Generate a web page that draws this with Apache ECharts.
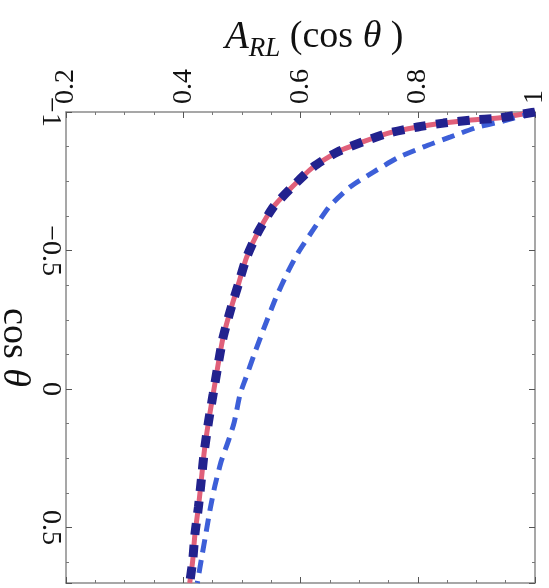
<!DOCTYPE html>
<html>
<head>
<meta charset="utf-8">
<script src="https://cdn.jsdelivr.net/npm/echarts@6/dist/echarts.min.js"></script>
<style>
  html, body { margin: 0; padding: 0; background: #fff; }
  #chart { width: 549px; height: 588px; }
</style>
</head>
<body>
<div id="chart"></div>
<script>
// Asymmetry A_RL as a function of cos(theta)
const cosFull = [-1.0, -0.978, -0.971, -0.960, -0.946, -0.924, -0.892, -0.856, -0.802, -0.730,
  -0.658, -0.568, -0.475, -0.378, -0.281, -0.187, -0.083, 0.018, 0.119, 0.223,
  0.324, 0.424, 0.522, 0.622, 0.7];
const aFull = [1.0, 0.937, 0.891, 0.844, 0.800, 0.750, 0.706, 0.663, 0.622, 0.586,
  0.554, 0.528, 0.508, 0.494, 0.480, 0.468, 0.459, 0.451, 0.443, 0.436,
  0.431, 0.426, 0.420, 0.416, 0.411];
// Approximation curve, drawn dotted on top of the full result
const cosApprox = cosFull.slice();
const aApprox = aFull.slice();
// Leading-order curve
const cosLO = [-1.0, -0.968, -0.946, -0.910, -0.874, -0.835, -0.784, -0.730, -0.658, -0.576,
  -0.496, -0.421, -0.324, -0.216, -0.119, -0.036, 0.018, 0.119, 0.187, 0.259,
  0.349, 0.432, 0.529, 0.601, 0.7];
const aLO = [1.0, 0.947, 0.903, 0.856, 0.810, 0.766, 0.725, 0.685, 0.649, 0.622,
  0.597, 0.578, 0.557, 0.537, 0.520, 0.506, 0.497, 0.487, 0.477, 0.465,
  0.454, 0.446, 0.438, 0.432, 0.424];

const xTicks = { min: 0.2, max: 1.0, interval: 0.2 };
const yTicks = { min: -1, max: 0.7, interval: 0.5 };

const pairs = (xs, ys) => xs.map((x, i) => [x, ys[i]]);
const fmt = v => String(+v.toFixed(2)).replace('-', '\u2212');
const serif = '"Liberation Serif", "DejaVu Serif", serif';
const frame = '#8a8a8a';

const chart = echarts.init(document.getElementById('chart'), null, { renderer: 'canvas' });

const tickStyle = {
  axisLine: { show: true, onZero: false, lineStyle: { color: frame, width: 1.5 } },
  axisTick: { show: true, inside: true, length: 6, lineStyle: { color: '#555', width: 1 } },
  minorTick: { show: true, splitNumber: 4, length: 3, lineStyle: { color: '#777', width: 1 } },
  splitLine: { show: false }
};

chart.setOption({
  animation: false,
  backgroundColor: '#fff',
  title: {
    text: '{a|A}{s|RL}{p| (cos }{t|θ}{p| )}',
    left: 220, top: 8,
    textStyle: {
      rich: {
        a: { fontFamily: serif, fontStyle: 'italic', fontWeight: 'normal', fontSize: 39, color: '#111' },
        s: { fontFamily: serif, fontStyle: 'italic', fontWeight: 'normal', fontSize: 27, color: '#111', padding: [22, 0, 0, 0] },
        p: { fontFamily: serif, fontWeight: 'normal', fontSize: 38, color: '#111' },
        t: { fontFamily: serif, fontStyle: 'italic', fontWeight: 'normal', fontSize: 38, color: '#111' }
      }
    }
  },
  grid: { left: 66, right: 14, top: 112, bottom: 5, containLabel: false, outerBoundsMode: 'none' },
  xAxis: [
    Object.assign({
      type: 'value', position: 'top', min: xTicks.min, max: xTicks.max, interval: xTicks.interval,
      axisLabel: { rotate: -90, fontFamily: serif, fontSize: 28, color: '#111', margin: 8, formatter: fmt }
    }, tickStyle),
    Object.assign({
      type: 'value', position: 'bottom', min: xTicks.min, max: xTicks.max, interval: xTicks.interval,
      axisLabel: { show: false }
    }, tickStyle)
  ],
  yAxis: [
    Object.assign({
      type: 'value', inverse: true, position: 'left',
      min: yTicks.min, max: yTicks.max, interval: yTicks.interval,
      name: '{c|cos }{t|θ}', nameLocation: 'middle', nameRotate: -90, nameGap: 33,
      nameMoveOverlap: false,
      nameTextStyle: {
        rich: {
          c: { fontFamily: serif, fontSize: 38, color: '#111' },
          t: { fontFamily: serif, fontStyle: 'italic', fontSize: 38, color: '#111' }
        }
      },
      axisLabel: { rotate: -90, fontFamily: serif, fontSize: 28, color: '#111', margin: 2,
        showMaxLabel: false, formatter: fmt }
    }, tickStyle),
    Object.assign({
      type: 'value', inverse: true, position: 'right',
      min: yTicks.min, max: yTicks.max, interval: yTicks.interval,
      axisLabel: { show: false }
    }, tickStyle)
  ],
  series: [
    {
      name: 'full', type: 'line', smooth: 0.2, showSymbol: false, z: 2,
      data: pairs(aFull, cosFull),
      lineStyle: { color: '#e0607a', width: 5 }
    },
    {
      name: 'approx', type: 'line', smooth: 0.2, showSymbol: false, z: 3,
      data: pairs(aApprox, cosApprox),
      lineStyle: { color: '#22228e', width: 9, type: [12, 10], cap: 'butt' }
    },
    {
      name: 'LO', type: 'line', smooth: 0.2, showSymbol: false, z: 2,
      data: pairs(aLO, cosLO),
      lineStyle: { color: '#3d5fd8', width: 5, type: [13, 8] }
    }
  ]
});
</script>
</body>
</html>
